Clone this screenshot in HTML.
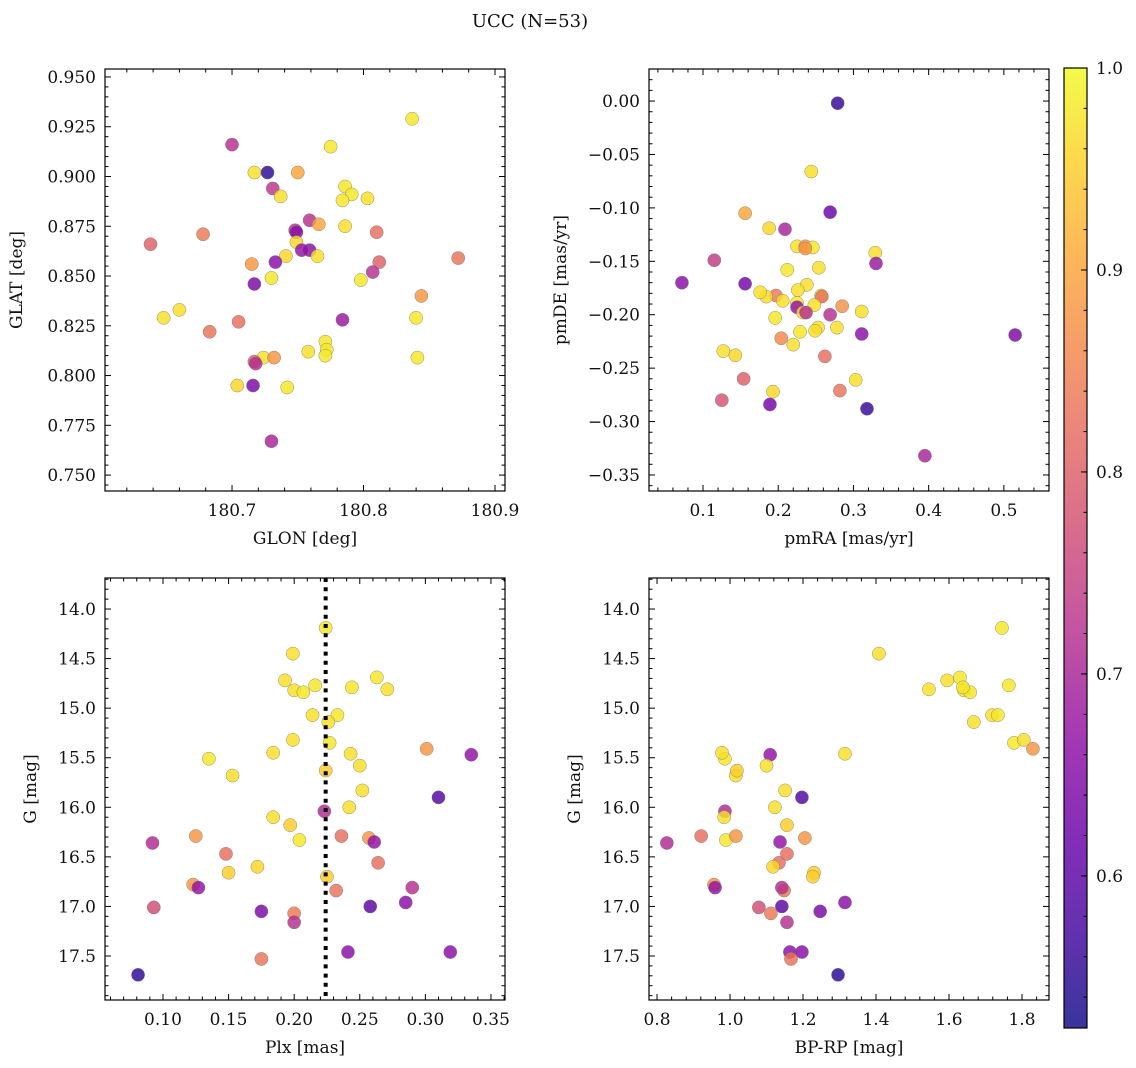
<!DOCTYPE html>
<html><head><meta charset="utf-8">
<style>
body{margin:0;background:#fff;}
svg{display:block;font-family:"DejaVu Serif","Liberation Serif",serif;}
</style></head>
<body>
<svg id="fig" width="1136" height="1068" viewBox="0 0 1136 1068">
<text x="530" y="27" font-size="18" text-anchor="middle" fill="#111">UCC (N=53)</text>
</svg>
<script>
// ---- Panel 1: GLON vs GLAT ----
const glon=[180.837,180.700,180.775,180.717,180.727,180.750,180.731,180.786,180.737,180.791,180.803,180.784,180.759,180.748,180.749,180.766,180.786,180.810,180.678,180.638,180.749,180.759,180.753,180.765,180.741,180.812,180.872,180.733,180.715,180.807,180.798,180.730,180.717,180.844,180.660,180.648,180.840,180.784,180.705,180.683,180.771,180.772,180.758,180.771,180.841,180.724,180.732,180.717,180.718,180.704,180.716,180.742,180.730];
const glat=[0.929,0.916,0.915,0.902,0.902,0.902,0.894,0.895,0.890,0.891,0.889,0.888,0.878,0.873,0.872,0.876,0.875,0.872,0.871,0.866,0.867,0.863,0.863,0.860,0.860,0.857,0.859,0.857,0.856,0.852,0.848,0.849,0.846,0.840,0.833,0.829,0.829,0.828,0.827,0.822,0.817,0.813,0.812,0.810,0.809,0.809,0.809,0.807,0.806,0.795,0.795,0.794,0.767];
const probP1=[0.98,0.72,0.98,0.97,0.55,0.9,0.73,0.98,0.97,0.98,0.97,0.98,0.72,0.72,0.66,0.9,0.97,0.82,0.84,0.8,0.96,0.66,0.67,0.97,0.96,0.8,0.83,0.66,0.88,0.72,0.98,0.98,0.64,0.88,0.97,0.97,0.98,0.68,0.82,0.83,0.98,0.98,0.97,0.98,0.98,0.97,0.88,0.8,0.72,0.96,0.64,0.98,0.7];
// ---- Panel 2: pmRA vs pmDE ----
const pmra=[0.279,0.244,0.269,0.156,0.188,0.209,0.115,0.225,0.236,0.246,0.329,0.330,0.212,0.254,0.072,0.156,0.238,0.226,0.257,0.197,0.184,0.258,0.206,0.225,0.248,0.285,0.311,0.225,0.269,0.233,0.196,0.253,0.278,0.311,0.229,0.249,0.515,0.204,0.220,0.127,0.143,0.262,0.154,0.303,0.193,0.282,0.125,0.189,0.318,0.395,0.236,0.237,0.176];
const pmde=[-0.002,-0.066,-0.104,-0.105,-0.119,-0.120,-0.149,-0.136,-0.136,-0.137,-0.142,-0.152,-0.158,-0.156,-0.170,-0.171,-0.172,-0.177,-0.182,-0.182,-0.183,-0.183,-0.187,-0.189,-0.191,-0.192,-0.197,-0.193,-0.200,-0.198,-0.203,-0.212,-0.212,-0.218,-0.216,-0.215,-0.219,-0.222,-0.228,-0.234,-0.238,-0.239,-0.260,-0.261,-0.272,-0.271,-0.280,-0.284,-0.288,-0.332,-0.138,-0.198,-0.179];
const probP2=[0.56,0.97,0.62,0.9,0.96,0.7,0.74,0.97,0.88,0.98,0.97,0.68,0.98,0.97,0.66,0.63,0.97,0.97,0.98,0.84,0.97,0.82,0.97,0.98,0.97,0.87,0.97,0.67,0.72,0.97,0.98,0.97,0.97,0.66,0.98,0.97,0.64,0.86,0.97,0.97,0.96,0.82,0.8,0.97,0.96,0.83,0.78,0.63,0.56,0.7,0.88,0.72,0.97];
// ---- Panels 3/4: Plx, BP-RP vs G ----
const plx=[0.224,0.199,0.263,0.193,0.216,0.200,0.207,0.271,0.244,0.214,0.233,0.226,0.227,0.199,0.135,0.184,0.243,0.301,0.335,0.153,0.224,0.252,0.310,0.223,0.242,0.184,0.197,0.204,0.092,0.125,0.236,0.257,0.261,0.264,0.148,0.172,0.150,0.225,0.123,0.127,0.232,0.290,0.285,0.093,0.258,0.175,0.200,0.200,0.241,0.319,0.175,0.081,0.250];
const gmag=[14.19,14.45,14.69,14.72,14.77,14.82,14.84,14.81,14.79,15.07,15.07,15.14,15.35,15.32,15.51,15.45,15.46,15.41,15.47,15.68,15.63,15.83,15.90,16.04,16.00,16.10,16.18,16.33,16.36,16.29,16.29,16.31,16.35,16.56,16.47,16.60,16.66,16.70,16.78,16.81,16.84,16.81,16.96,17.01,17.00,17.05,17.07,17.16,17.46,17.46,17.53,17.69,15.58];
const bprp=[1.745,1.408,1.630,1.595,1.764,1.641,1.658,1.545,1.638,1.718,1.734,1.668,1.778,1.805,0.986,0.978,1.315,1.830,1.110,1.016,1.019,1.151,1.197,0.986,1.123,0.984,1.156,0.989,0.827,1.016,0.921,1.205,1.137,1.134,1.156,1.118,1.230,1.227,0.956,0.959,1.148,1.142,1.315,1.079,1.142,1.247,1.112,1.156,1.164,1.197,1.167,1.296,1.100];
const probP3=[0.98,0.97,0.98,0.97,0.98,0.97,0.98,0.97,0.98,0.97,0.98,0.97,0.98,0.97,0.98,0.97,0.97,0.88,0.67,0.97,0.95,0.97,0.59,0.71,0.97,0.97,0.95,0.98,0.71,0.88,0.82,0.88,0.67,0.82,0.82,0.96,0.95,0.95,0.88,0.67,0.83,0.72,0.66,0.77,0.6,0.64,0.84,0.72,0.66,0.66,0.83,0.55,0.97];
const plxLine=0.224;
const vmin=0.5247, vmax=1.0;
const cbTicks=[0.6,0.7,0.8,0.9,1.0];

const NS="http://www.w3.org/2000/svg";
const svg=document.getElementById('fig');
const FS=17;
function mk(tag,attrs,parent){const e=document.createElementNS(NS,tag);for(const k in attrs)e.setAttribute(k,attrs[k]);(parent||svg).appendChild(e);return e;}
const plasma=[[13,8,135],[65,4,157],[106,0,168],[143,13,164],[177,42,144],[204,71,120],[225,100,98],[242,132,75],[252,166,54],[252,206,37],[240,249,33]];
function cmap(v){let t=(v-vmin)/(vmax-vmin);t=Math.max(0,Math.min(1,t));const s=t*10;const i=Math.min(9,Math.floor(s));const f=s-i;const a=plasma[i],b=plasma[i+1];return `rgb(${Math.round(a[0]+(b[0]-a[0])*f)},${Math.round(a[1]+(b[1]-a[1])*f)},${Math.round(a[2]+(b[2]-a[2])*f)})`;}
function fmt(v,d){const s=Math.abs(v).toFixed(d);return (v<-1e-9?'\u2212':'')+s;}

function panel(o){
  const g=mk('g',{});
  
  
  const [L,T,R,B]=o.box;
  const sx=v=>L+(v-o.xd[0])/(o.xd[1]-o.xd[0])*(R-L);
  const sy=o.inv? (v=>T+(v-o.yd[0])/(o.yd[1]-o.yd[0])*(B-T)) : (v=>B-(v-o.yd[0])/(o.yd[1]-o.yd[0])*(B-T));
  const pg=mk('g',{},g);
  for(let i=0;i<o.xs.length;i++){
    const c=mk('circle',{cx:sx(o.xs[i]),cy:sy(o.ys[i]),r:6.6,fill:cmap(o.ps[i]),'fill-opacity':0.82,stroke:'#777','stroke-width':0.5,'stroke-opacity':0.8},pg);
    
    
  }
  if(o.vline!==undefined){
    const l=mk('line',{x1:sx(o.vline),x2:sx(o.vline),y1:T,y2:B,stroke:'#000','stroke-width':4,'stroke-dasharray':'4 5.2'},g);
    
    
  }
  const tg=mk('g',{stroke:'#000','stroke-width':1},g);
  const eps=1e-9;
  const mstep=o.xmaj/o.xmin;
  for(let v=Math.ceil(o.xd[0]/mstep-eps)*mstep; v<=o.xd[1]+eps; v+=mstep){
    const x=sx(v); const isMaj=Math.abs(v/o.xmaj-Math.round(v/o.xmaj))<1e-6; const len=isMaj?6:3.5;
    mk('line',{x1:x,x2:x,y1:B,y2:B-len},tg); mk('line',{x1:x,x2:x,y1:T,y2:T+len},tg);
  }
  const ystep=o.ymaj/o.ymin;
  for(let v=Math.ceil(o.yd[0]/ystep-eps)*ystep; v<=o.yd[1]+eps; v+=ystep){
    const y=sy(v); const isMaj=Math.abs(v/o.ymaj-Math.round(v/o.ymaj))<1e-6; const len=isMaj?6:3.5;
    mk('line',{x1:L,x2:L+len,y1:y,y2:y},tg); mk('line',{x1:R,x2:R-len,y1:y,y2:y},tg);
  }
  o.xt.forEach(v=>{const t=mk('text',{x:sx(v),y:B+25,'font-size':FS,'text-anchor':'middle',fill:'#111'},g);t.textContent=fmt(v,o.xdec);
    });
  o.yt.forEach(v=>{const t=mk('text',{x:L-9,y:sy(v)+6,'font-size':FS,'text-anchor':'end',fill:'#111'},g);t.textContent=fmt(v,o.ydec);
    });
  mk('rect',{x:L,y:T,width:R-L,height:B-T,fill:'none',stroke:'#000','stroke-width':1.2},g);
  const xl=mk('text',{x:(L+R)/2,y:B+53,'font-size':FS,'text-anchor':'middle',fill:'#111'},g);xl.textContent=o.xlab;
  
  const yl=mk('text',{x:0,y:0,'font-size':FS,'text-anchor':'middle',fill:'#111',transform:`translate(${o.ylx},${(T+B)/2}) rotate(-90)`},g);yl.textContent=o.ylab;
  
}
function rng(a,b,s){const r=[];for(let v=a;v<=b+1e-9;v+=s)r.push(Math.round(v*1e6)/1e6);return r;}

panel({name:'glon-glat-panel',box:[105,69,505,491],xd:[180.6034,180.9076],yd:[0.742,0.954],xmaj:0.1,xmin:5,ymaj:0.025,ymin:5,
  xt:[180.7,180.8,180.9],yt:rng(0.75,0.95,0.025),xdec:1,ydec:3,xs:glon,ys:glat,ps:probP1,xlab:'GLON [deg]',ylab:'GLAT [deg]',ylx:22});
panel({name:'pmra-pmde-panel',box:[649,69,1049,491],xd:[0.0282,0.560],yd:[-0.365,0.030],xmaj:0.1,xmin:5,ymaj:0.05,ymin:5,
  xt:[0.1,0.2,0.3,0.4,0.5],yt:rng(-0.35,0.0,0.05),xdec:1,ydec:2,xs:pmra,ys:pmde,ps:probP2,xlab:'pmRA [mas/yr]',ylab:'pmDE [mas/yr]',ylx:566});
panel({name:'plx-g-panel',box:[105,578,505,1000],xd:[0.0558,0.3607],yd:[13.687,17.944],inv:true,xmaj:0.05,xmin:5,ymaj:0.5,ymin:5,
  xt:rng(0.1,0.35,0.05),yt:rng(14,17.5,0.5),xdec:2,ydec:1,xs:plx,ys:gmag,ps:probP3,vline:plxLine,xlab:'Plx [mas]',ylab:'G [mag]',ylx:36});
panel({name:'bprp-g-panel',box:[649,578,1049,1000],xd:[0.778,1.874],yd:[13.687,17.944],inv:true,xmaj:0.2,xmin:5,ymaj:0.5,ymin:5,
  xt:rng(0.8,1.8,0.2),yt:rng(14,17.5,0.5),xdec:1,ydec:1,xs:bprp,ys:gmag,ps:probP3,xlab:'BP-RP [mag]',ylab:'G [mag]',ylx:580});

(function(){
  const L=1064,R=1087,T=68,B=1028;
  const cg=mk('g',{});
  
  
  const defs=mk('defs',{},cg);
  const lg=mk('linearGradient',{id:'cbg',x1:0,y1:1,x2:0,y2:0},defs);
  for(let i=0;i<=20;i++){const v=vmin+(vmax-vmin)*i/20;mk('stop',{offset:i/20,'stop-color':cmap(v),'stop-opacity':0.82},lg);}
  mk('rect',{x:L,y:T,width:R-L,height:B-T,fill:'url(#cbg)'},cg);
  const sy=v=>B-(v-vmin)/(vmax-vmin)*(B-T);
  for(let v=0.54;v<=1.0001;v+=0.02){const y=sy(v);mk('line',{x1:R,x2:R-3.5,y1:y,y2:y,stroke:'#000'},cg);}
  cbTicks.forEach(v=>{const y=sy(v);mk('line',{x1:R,x2:R-6,y1:y,y2:y,stroke:'#000'},cg);
    const t=mk('text',{x:R+9,y:y+6,'font-size':FS,fill:'#111'},cg);t.textContent=v.toFixed(1);
    });
  mk('rect',{x:L,y:T,width:R-L,height:B-T,fill:'none',stroke:'#000','stroke-width':1.2},cg);
})();
</script>
</body></html>
